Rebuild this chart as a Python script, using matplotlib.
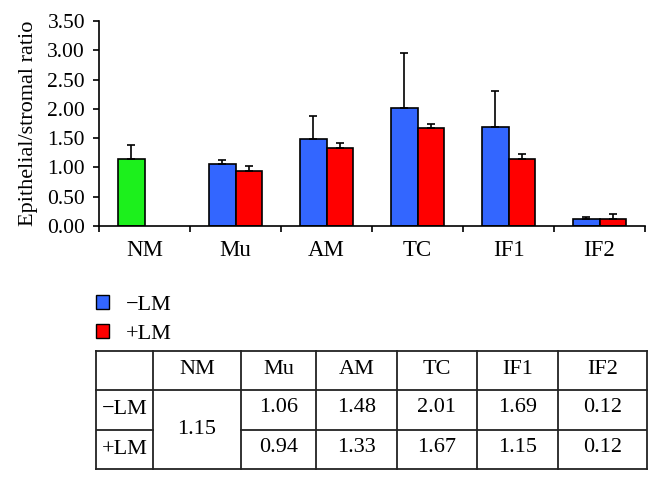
import numpy as np
import matplotlib.pyplot as plt
from matplotlib.patches import Patch

plt.rcParams['font.family'] = ['Liberation Serif', 'DejaVu Serif']
plt.rcParams['font.size'] = 16

categories = ['NM', 'Mu', 'AM', 'TC', 'IF1', 'IF2']
series = ['\u2212LM', '+LM']
nm_value = 1.15
nm_err = 0.23
minus_lm = [1.06, 1.48, 2.01, 1.69, 0.12]
plus_lm = [0.94, 1.33, 1.67, 1.15, 0.12]
minus_err = [0.07, 0.39, 0.94, 0.61, 0.04]
plus_err = [0.08, 0.08, 0.07, 0.08, 0.08]
yticks = [0.0, 0.5, 1.0, 1.5, 2.0, 2.5, 3.0, 3.5]

blue = '#3366ff'
red = '#ff0000'
green = '#1cf01c'

fig = plt.figure(figsize=(6.61, 4.84), dpi=100)
ax = fig.add_axes([99 / 661, 1 - 226 / 484, 546 / 661, 205 / 484])

w = 0.29
centers = np.arange(len(categories)) + 0.5
bar_kw = dict(width=w, edgecolor='black', linewidth=1.2, align='edge',
              error_kw=dict(ecolor='black', elinewidth=1.2, capsize=3, capthick=1.2))

ax.bar(centers[0] - w, nm_value, color=green,
       yerr=[[0], [nm_err]], **bar_kw)
b1 = ax.bar(centers[1:] - w, minus_lm, color=blue,
            yerr=[np.zeros(5), minus_err], **bar_kw)
b2 = ax.bar(centers[1:], plus_lm, color=red,
            yerr=[np.zeros(5), plus_err], **bar_kw)

ax.set_xlim(0, len(categories))
ax.set_ylim(0, 3.5)
ax.set_yticks(yticks)
ax.set_yticklabels([f'{v:.2f}' for v in yticks], fontsize=15.5)
ax.set_xticks(np.arange(len(categories) + 1))
ax.set_xticklabels([])
ax.set_xticks(centers, minor=True)
ax.set_xticklabels(categories, minor=True, fontsize=16.5)
ax.tick_params(axis='x', which='minor', length=0, pad=10)
ax.tick_params(axis='x', which='major', length=4, width=1.2, direction='out')
ax.tick_params(axis='y', length=4, width=1.2, pad=6)
for s in ['top', 'right']:
    ax.spines[s].set_visible(False)
for s in ['left', 'bottom']:
    ax.spines[s].set_linewidth(1.2)
ax.set_ylabel('Epithelial/stromal ratio', fontsize=16, labelpad=7)

# legend
handles = [Patch(facecolor=blue, edgecolor='black', linewidth=1.0),
           Patch(facecolor=red, edgecolor='black', linewidth=1.0)]
fig.legend(handles, series, loc='upper left', bbox_to_anchor=(96 / 661, 1 - 295 / 484),
           frameon=False, handlelength=0.6, handleheight=0.6, handletextpad=0.75,
           labelspacing=0.42, borderpad=0, borderaxespad=0)

# table
tx = fig.add_axes([96 / 661, 1 - 469.3 / 484, 551 / 661, 118.6 / 484])
tx.set_xlim(0, 551)
tx.set_ylim(118.6, 0)
tx.axis('off')
col_edges = [0, 57, 145, 220, 301, 381, 462, 551]
row_edges = [0, 39.3, 79.3, 118.6]
lw = 1.3
for x in col_edges:
    tx.plot([x, x], [0, 118.6], color='#222222', lw=lw, clip_on=False)
for i, y in enumerate(row_edges):
    if i == 2:
        tx.plot([0, col_edges[1]], [y, y], color='#222222', lw=lw)
        tx.plot([col_edges[2], 551], [y, y], color='#222222', lw=lw)
    else:
        tx.plot([0, 551], [y, y], color='#222222', lw=lw, clip_on=False)

xc = [(col_edges[i] + col_edges[i + 1]) / 2 for i in range(len(col_edges) - 1)]
yc = [(row_edges[i] + row_edges[i + 1]) / 2 for i in range(3)]
for j, c in enumerate(categories):
    tx.text(xc[j + 1], yc[0] - 1, c, ha='center', va='center')
for r, name in enumerate(series):
    tx.text(xc[0], yc[r + 1], name, ha='center', va='center')
tx.text(xc[1], row_edges[2], f'{nm_value:.2f}', ha='center', va='center')
for j in range(5):
    tx.text(xc[j + 2], yc[1] - 2, f'{minus_lm[j]:.2f}', ha='center', va='center')
    tx.text(xc[j + 2], yc[2] - 2, f'{plus_lm[j]:.2f}', ha='center', va='center')

fig.savefig('out.png', dpi=100)
